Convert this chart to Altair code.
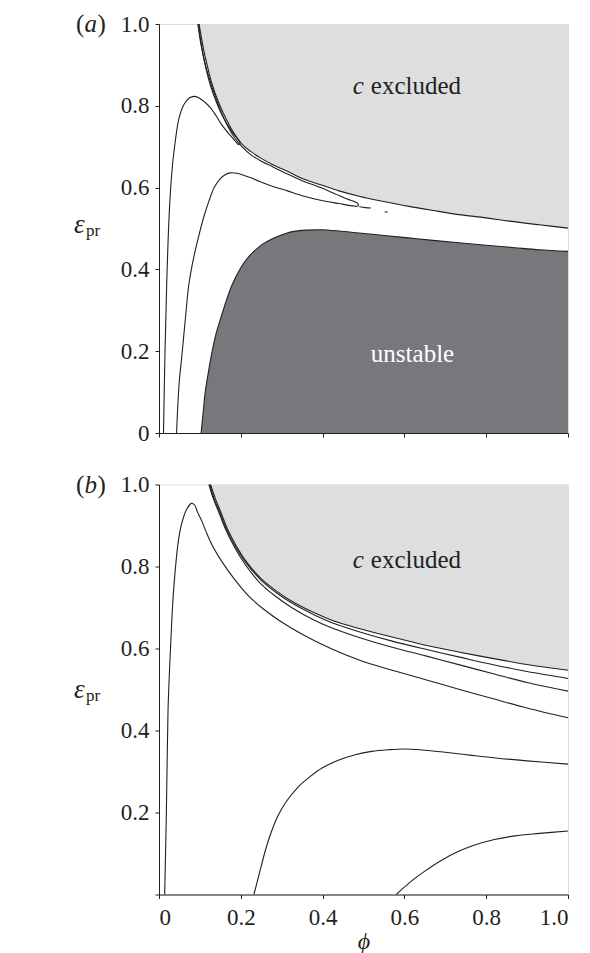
import altair as alt
import pandas as pd

FONT = "Liberation Serif, Times New Roman, Times, serif"
INK = "#231f20"
LIGHT = "#dddee0"
DARK = "#77787b"

# ---------------- panel (a) ----------------
a_excl_phi = [0.098, 0.104, 0.110, 0.120, 0.130, 0.145, 0.163, 0.182, 0.204, 0.225, 0.249, 0.28, 0.314,
              0.35, 0.395, 0.44, 0.489, 0.55, 0.611, 0.67, 0.733, 0.8, 0.856, 0.93, 1.0]
a_excl_eps = [1.0, 0.965, 0.933, 0.89, 0.852, 0.81, 0.77, 0.735, 0.705, 0.688, 0.672, 0.655, 0.64,
              0.622, 0.607, 0.592, 0.579, 0.566, 0.554, 0.544, 0.534, 0.526, 0.518, 0.509, 0.501]

a_unst_phi = [0.103, 0.108, 0.113, 0.121, 0.130, 0.140, 0.151, 0.165, 0.179, 0.2, 0.215, 0.232, 0.255,
              0.281, 0.31, 0.33, 0.36, 0.395, 0.44, 0.489, 0.55, 0.61, 0.67, 0.733, 0.8, 0.87, 0.93, 1.0]
a_unst_eps = [0.0, 0.05, 0.1, 0.15, 0.2, 0.245, 0.281, 0.325, 0.363, 0.404, 0.426, 0.444, 0.463,
              0.477, 0.488, 0.493, 0.496, 0.497, 0.494, 0.489, 0.483, 0.477, 0.471, 0.465, 0.459, 0.453, 0.448, 0.444]

a1_phi = [0.011, 0.0147, 0.019, 0.0245, 0.030, 0.0367, 0.049, 0.061, 0.074, 0.087, 0.1, 0.113, 0.126,
          0.14, 0.151, 0.163, 0.175, 0.187, 0.195, 0.198, 0.192, 0.176, 0.158, 0.14, 0.125, 0.115,
          0.106, 0.1, 0.095]
a1_eps = [0.0, 0.2, 0.37, 0.526, 0.62, 0.689, 0.77, 0.803, 0.819, 0.823, 0.818, 0.808, 0.795,
          0.775, 0.757, 0.741, 0.727, 0.713, 0.705, 0.71, 0.72, 0.74, 0.77, 0.81, 0.852, 0.89,
          0.933, 0.965, 1.0]

a2_phi = [0.043, 0.049, 0.057, 0.065, 0.073, 0.085, 0.098, 0.11, 0.122, 0.135, 0.15, 0.163, 0.175,
          0.19, 0.205, 0.232, 0.27, 0.314, 0.355, 0.395, 0.44, 0.477, 0.487, 0.485, 0.46, 0.43,
          0.395, 0.35, 0.314, 0.28, 0.249, 0.225, 0.204, 0.185, 0.168, 0.15, 0.135, 0.122, 0.11,
          0.102, 0.097]
a2_eps = [0.0, 0.118, 0.2, 0.285, 0.363, 0.43, 0.485, 0.53, 0.567, 0.6, 0.622, 0.632, 0.636,
          0.635, 0.631, 0.621, 0.606, 0.592, 0.579, 0.569, 0.561, 0.555, 0.555, 0.562, 0.572, 0.585,
          0.6, 0.617, 0.633, 0.65, 0.665, 0.68, 0.699, 0.722, 0.75, 0.79, 0.83, 0.87, 0.915,
          0.96, 1.0]

blob1_phi = [0.49, 0.505, 0.518]
blob1_eps = [0.553, 0.551, 0.550]
blob2_phi = [0.552, 0.559]
blob2_eps = [0.541, 0.540]

# ---------------- panel (b) ----------------
b_excl_phi = [0.126, 0.138, 0.151, 0.168, 0.188, 0.215, 0.249, 0.29, 0.33, 0.38, 0.428, 0.489, 0.57,
              0.652, 0.735, 0.815, 0.9, 1.0]
b_excl_eps = [1.0, 0.965, 0.933, 0.89, 0.852, 0.81, 0.771, 0.738, 0.712, 0.687, 0.667, 0.649, 0.628,
              0.608, 0.591, 0.576, 0.561, 0.547]

bA_phi = [0.124, 0.135, 0.148, 0.165, 0.185, 0.212, 0.246, 0.287, 0.328, 0.38, 0.428, 0.489, 0.57,
          0.652, 0.735, 0.815, 0.9, 1.0]
bA_eps = [1.0, 0.965, 0.933, 0.89, 0.852, 0.81, 0.77, 0.736, 0.709, 0.682, 0.661, 0.641, 0.618,
          0.598, 0.579, 0.561, 0.544, 0.527]

bB_phi = [0.122, 0.133, 0.146, 0.163, 0.183, 0.21, 0.243, 0.284, 0.326, 0.38, 0.428, 0.489, 0.57,
          0.652, 0.735, 0.815, 0.9, 1.0]
bB_eps = [1.0, 0.965, 0.933, 0.89, 0.85, 0.806, 0.764, 0.728, 0.699, 0.669, 0.648, 0.627, 0.603,
          0.582, 0.56, 0.539, 0.517, 0.496]

b1_phi = [0.0139, 0.016, 0.018, 0.020, 0.022, 0.025, 0.0285, 0.033, 0.038, 0.046, 0.052, 0.059, 0.068,
          0.079, 0.087, 0.094, 0.105, 0.115, 0.13, 0.155, 0.183, 0.22, 0.257, 0.293, 0.35, 0.42,
          0.489, 0.57, 0.652, 0.735, 0.815, 0.9, 1.0]
b1_eps = [0.0, 0.1, 0.2, 0.33, 0.446, 0.53, 0.608, 0.7, 0.771, 0.852, 0.89, 0.917, 0.94,
          0.954, 0.95, 0.933, 0.91, 0.885, 0.852, 0.81, 0.771, 0.727, 0.695, 0.669, 0.635, 0.6,
          0.572, 0.547, 0.524, 0.5, 0.478, 0.455, 0.431]

b2_phi = [0.232, 0.245, 0.258, 0.272, 0.29, 0.31, 0.34, 0.37, 0.4, 0.44, 0.48, 0.52, 0.56,
          0.6, 0.65, 0.7, 0.76, 0.823, 0.9, 1.0]
b2_eps = [0.0, 0.05, 0.1, 0.145, 0.19, 0.225, 0.262, 0.288, 0.309, 0.328, 0.341, 0.349, 0.353,
          0.355, 0.352, 0.347, 0.34, 0.333, 0.326, 0.318]

b3_phi = [0.58, 0.60, 0.62, 0.65, 0.69, 0.73, 0.77, 0.82, 0.87, 0.93, 1.0]
b3_eps = [0.0, 0.018, 0.035, 0.057, 0.083, 0.104, 0.12, 0.134, 0.143, 0.149, 0.155]

tick_values = [0, 0.2, 0.4, 0.6, 0.8, 1.0]
tick_labels = ["0", "0.2", "0.4", "0.6", "0.8", "1.0"]
tick_labels_b = ["", "0.2", "0.4", "0.6", "0.8", "1.0"]


def frame(name, phi, eps):
    return pd.DataFrame({"curve": name, "phi": phi, "eps": eps, "i": list(range(len(phi)))})


def label_expr(labels):
    arr = "[" + ",".join("'" + s + "'" for s in labels) + "]"
    return arr + "[round(datum.value * 5)]"


axis_common = dict(values=tick_values, tickSize=4, tickColor=INK, domainColor=INK, grid=False,
                   labelFont=FONT, labelFontSize=23, labelColor=INK, tickWidth=1, domainWidth=1)


def x_enc(show):
    if show:
        ax = alt.Axis(labels=True, labelExpr=label_expr(tick_labels), labelPadding=8,
                      title="ϕ", titleFont=FONT, titleFontStyle="italic", titleFontWeight="normal",
                      titleFontSize=24, titleColor=INK, titlePadding=0, **axis_common)
    else:
        ax = alt.Axis(labels=False, title=None, **axis_common)
    return alt.X("phi:Q", scale=alt.Scale(domain=[0, 1], nice=False, zero=False), axis=ax)


def y_enc(labels):
    ax = alt.Axis(labelExpr=label_expr(labels), labelPadding=6, title=None, **axis_common)
    return alt.Y("eps:Q", scale=alt.Scale(domain=[0, 1], nice=False, zero=False), axis=ax)


def panel(letter, excl, unst, lines, excl_text_eps, show_x, ylabels, eps_y, h):
    X = x_enc(show_x)
    Y = y_enc(ylabels)
    layers = []
    ex = excl.copy()
    ex["top"] = 1.0
    layers.append(alt.Chart(ex).mark_area(color=LIGHT, interpolate="monotone").encode(
        x=X, y=Y, y2="top"))
    if unst is not None:
        un = unst.copy()
        un["bottom"] = 0.0
        layers.append(alt.Chart(un).mark_area(color=DARK, interpolate="monotone").encode(
            x=X, y=Y, y2="bottom"))
    layers.append(alt.Chart(lines).mark_line(color=INK, strokeWidth=1.1, interpolate="catmull-rom").encode(
        x=X, y=Y, detail="curve:N", order="i:Q"))
    # "c excluded"
    t_c = pd.DataFrame({"phi": [0.474], "eps": [excl_text_eps], "t": ["c"]})
    t_ex = pd.DataFrame({"phi": [0.518], "eps": [excl_text_eps], "t": ["excluded"]})
    layers.append(alt.Chart(t_c).mark_text(font=FONT, fontSize=25, fontStyle="italic", color=INK,
                                           align="left", baseline="alphabetic").encode(x=X, y=Y, text="t:N"))
    layers.append(alt.Chart(t_ex).mark_text(font=FONT, fontSize=25, color=INK,
                                            align="left", baseline="alphabetic").encode(x=X, y=Y, text="t:N"))
    if unst is not None:
        t_un = pd.DataFrame({"phi": [0.518], "eps": [0.174], "t": ["unstable"]})
        layers.append(alt.Chart(t_un).mark_text(font=FONT, fontSize=25, color="white",
                                                align="left", baseline="alphabetic").encode(x=X, y=Y, text="t:N"))
    # panel letter (a)/(b) and axis label eps_pr
    one = pd.DataFrame({"k": [0]})
    layers.append(alt.Chart(one).mark_text(font=FONT, fontSize=25, color=INK, align="left",
                                           baseline="alphabetic", text="(").encode(
        x=alt.value(-83), y=alt.value(8)))
    layers.append(alt.Chart(one).mark_text(font=FONT, fontSize=25, color=INK, align="left",
                                           fontStyle="italic", baseline="alphabetic", text=letter).encode(
        x=alt.value(-74.5), y=alt.value(8)))
    layers.append(alt.Chart(one).mark_text(font=FONT, fontSize=25, color=INK, align="left",
                                           baseline="alphabetic", text=")").encode(
        x=alt.value(-61.5), y=alt.value(8)))
    layers.append(alt.Chart(one).mark_text(font=FONT, fontSize=27, color=INK, align="left",
                                           fontStyle="italic", baseline="alphabetic", text="ε").encode(
        x=alt.value(-85), y=alt.value(eps_y)))
    layers.append(alt.Chart(one).mark_text(font=FONT, fontSize=17, color=INK, align="left",
                                           baseline="alphabetic", text="pr").encode(
        x=alt.value(-73), y=alt.value(eps_y + 3)))
    return alt.layer(*layers).properties(width=409, height=h)


lines_a = pd.concat([
    frame("excl_edge", a_excl_phi, a_excl_eps),
    frame("unst_edge", a_unst_phi, a_unst_eps),
    frame("a1", a1_phi, a1_eps),
    frame("a2", a2_phi, a2_eps),
    frame("blob1", blob1_phi, blob1_eps),
    frame("blob2", blob2_phi, blob2_eps),
], ignore_index=True)

lines_b = pd.concat([
    frame("excl_edge", b_excl_phi, b_excl_eps),
    frame("bA", bA_phi, bA_eps),
    frame("bB", bB_phi, bB_eps),
    frame("b1", b1_phi, b1_eps),
    frame("b2", b2_phi, b2_eps),
    frame("b3", b3_phi, b3_eps),
], ignore_index=True)

pa = panel("a", frame("excl", a_excl_phi, a_excl_eps), frame("unst", a_unst_phi, a_unst_eps),
           lines_a, 0.83, False, tick_labels, 209, 409)
pb = panel("b", frame("excl", b_excl_phi, b_excl_eps), None,
           lines_b, 0.797, True, tick_labels_b, 213, 410)

chart = alt.vconcat(pa, pb, spacing=25.5).properties(
    padding={"left": 65, "top": 3, "right": 5, "bottom": 0}
).configure_view(stroke=INK, strokeWidth=1).configure(background="white")

chart.save("out.html", embed_options={"renderer": "svg", "actions": False})
